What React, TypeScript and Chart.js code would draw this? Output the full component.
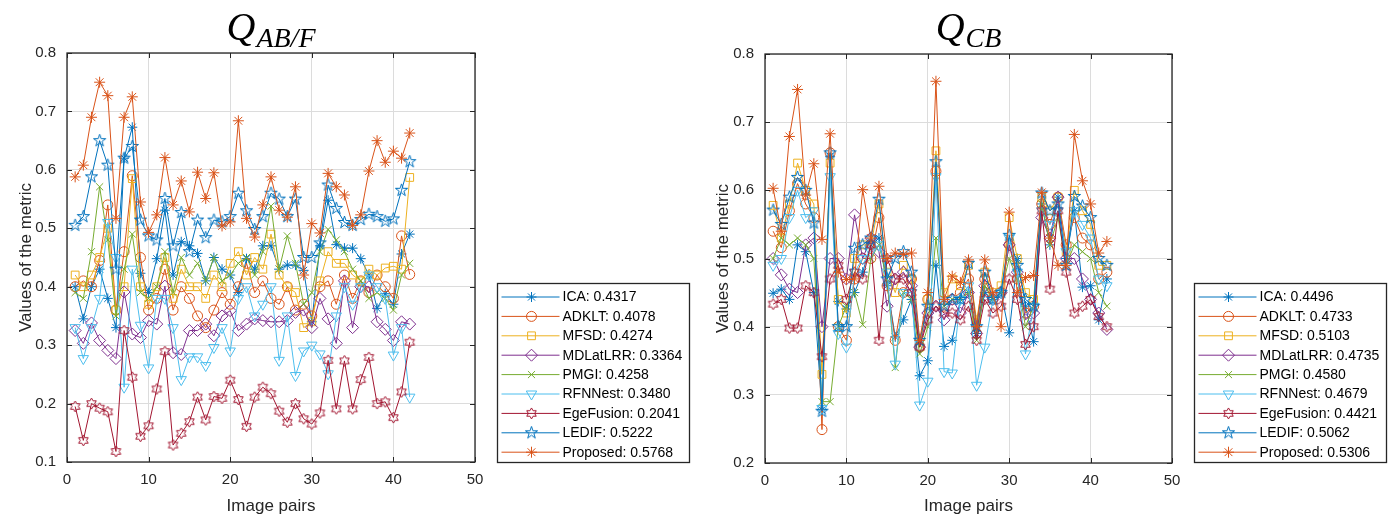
import React, { useEffect, useRef } from 'react';
import { Chart, registerables } from 'chart.js';
import { drawPoint } from 'chart.js/helpers';

Chart.register(...registerables);

// ---------- data ----------
const imagePairs = [1,2,3,4,5,6,7,8,9,10,11,12,13,14,15,16,17,18,19,20,21,22,23,24,25,26,27,28,29,30,31,32,33,34,35,36,37,38,39,40,41,42];

const methodNames = ['ICA', 'ADKLT', 'MFSD', 'MDLatLRR', 'PMGI', 'RFNNest', 'EgeFusion', 'LEDIF', 'Proposed'];
const meansABF = ['0.4317', '0.4078', '0.4274', '0.3364', '0.4258', '0.3480', '0.2041', '0.5222', '0.5768'];
const meansCB = ['0.4496', '0.4733', '0.5103', '0.4735', '0.4580', '0.4679', '0.4421', '0.5062', '0.5306'];

// Q_AB/F values
const icaABF = [0.40,0.345,0.40,0.43,0.38,0.33,0.62,0.673,0.423,0.39,0.448,0.531,0.42,0.477,0.47,0.457,0.41,0.45,0.43,0.42,0.39,0.448,0.43,0.47,0.47,0.43,0.437,0.437,0.428,0.34,0.47,0.548,0.472,0.466,0.466,0.448,0.42,0.363,0.388,0.37,0.456,0.49];
const adkltABF = [0.40,0.41,0.40,0.445,0.54,0.36,0.46,0.59,0.45,0.36,0.38,0.43,0.36,0.40,0.38,0.35,0.33,0.36,0.39,0.37,0.40,0.44,0.39,0.41,0.38,0.37,0.40,0.36,0.37,0.35,0.40,0.41,0.37,0.42,0.38,0.41,0.39,0.42,0.40,0.38,0.487,0.421];
const mfsdABF = [0.42,0.40,0.42,0.45,0.50,0.36,0.40,0.585,0.40,0.37,0.40,0.45,0.38,0.43,0.40,0.40,0.38,0.42,0.40,0.44,0.46,0.42,0.45,0.43,0.49,0.42,0.40,0.39,0.33,0.34,0.41,0.46,0.44,0.44,0.42,0.41,0.43,0.42,0.432,0.435,0.43,0.587];
const mdlatlrrABF = [0.325,0.303,0.338,0.308,0.291,0.277,0.391,0.319,0.313,0.342,0.336,0.401,0.287,0.284,0.325,0.325,0.336,0.316,0.35,0.359,0.325,0.336,0.345,0.342,0.34,0.34,0.342,0.356,0.36,0.33,0.38,0.345,0.303,0.41,0.33,0.40,0.40,0.34,0.327,0.308,0.34,0.336];
const pmgiABF = [0.39,0.38,0.46,0.571,0.48,0.35,0.43,0.49,0.39,0.38,0.40,0.46,0.39,0.45,0.42,0.44,0.41,0.45,0.41,0.42,0.44,0.45,0.42,0.46,0.538,0.43,0.487,0.44,0.37,0.39,0.46,0.498,0.48,0.46,0.43,0.41,0.38,0.39,0.38,0.36,0.42,0.44];
const rfnnestABF = [0.33,0.277,0.33,0.38,0.51,0.45,0.228,0.43,0.334,0.261,0.38,0.38,0.33,0.241,0.28,0.28,0.265,0.296,0.33,0.29,0.38,0.40,0.35,0.37,0.40,0.274,0.35,0.248,0.29,0.30,0.285,0.251,0.35,0.40,0.37,0.40,0.42,0.40,0.38,0.283,0.33,0.211];
const egefusionABF = [0.195,0.137,0.2,0.192,0.186,0.118,0.325,0.245,0.144,0.162,0.225,0.289,0.129,0.149,0.169,0.211,0.172,0.212,0.209,0.24,0.207,0.161,0.211,0.228,0.217,0.187,0.168,0.2,0.174,0.165,0.184,0.274,0.191,0.273,0.191,0.241,0.279,0.2,0.203,0.176,0.22,0.305];
const ledifABF = [0.505,0.52,0.588,0.65,0.608,0.43,0.62,0.64,0.514,0.487,0.48,0.551,0.47,0.527,0.46,0.514,0.484,0.514,0.511,0.52,0.56,0.53,0.498,0.52,0.56,0.55,0.52,0.55,0.45,0.45,0.475,0.574,0.534,0.51,0.505,0.515,0.524,0.52,0.512,0.516,0.565,0.614];
const proposedABF = [0.588,0.608,0.69,0.75,0.727,0.517,0.69,0.725,0.545,0.493,0.523,0.621,0.54,0.581,0.528,0.596,0.551,0.595,0.504,0.511,0.684,0.517,0.485,0.54,0.588,0.531,0.519,0.571,0.42,0.508,0.492,0.594,0.571,0.557,0.505,0.523,0.598,0.65,0.613,0.632,0.62,0.663];

// Q_CB values
const icaCB = [0.449,0.455,0.44,0.52,0.51,0.45,0.278,0.65,0.437,0.426,0.45,0.48,0.52,0.53,0.46,0.385,0.41,0.44,0.328,0.35,0.49,0.371,0.38,0.44,0.45,0.39,0.45,0.44,0.45,0.391,0.50,0.43,0.378,0.58,0.52,0.59,0.50,0.57,0.458,0.46,0.41,0.47];
const adkltCB = [0.54,0.516,0.57,0.61,0.58,0.56,0.249,0.655,0.40,0.38,0.47,0.50,0.50,0.56,0.46,0.38,0.45,0.47,0.37,0.44,0.628,0.43,0.44,0.45,0.47,0.39,0.47,0.44,0.45,0.52,0.47,0.42,0.43,0.58,0.55,0.59,0.52,0.56,0.53,0.52,0.47,0.48];
const mfsdCB = [0.578,0.53,0.58,0.64,0.60,0.58,0.33,0.64,0.44,0.42,0.50,0.52,0.52,0.58,0.48,0.45,0.49,0.47,0.37,0.44,0.658,0.45,0.47,0.46,0.49,0.41,0.48,0.45,0.46,0.56,0.50,0.45,0.44,0.59,0.57,0.59,0.51,0.60,0.57,0.55,0.49,0.49];
const mdlatlrrCB = [0.50,0.476,0.455,0.45,0.52,0.53,0.40,0.50,0.50,0.47,0.564,0.50,0.53,0.51,0.43,0.47,0.48,0.46,0.37,0.42,0.43,0.41,0.44,0.42,0.45,0.39,0.46,0.44,0.45,0.52,0.48,0.41,0.42,0.56,0.53,0.59,0.50,0.50,0.47,0.44,0.42,0.396];
const pmgiCB = [0.50,0.53,0.52,0.53,0.52,0.50,0.29,0.29,0.40,0.43,0.45,0.403,0.50,0.52,0.47,0.34,0.45,0.44,0.36,0.40,0.53,0.43,0.44,0.44,0.45,0.38,0.46,0.44,0.45,0.50,0.47,0.40,0.43,0.58,0.52,0.56,0.49,0.52,0.51,0.50,0.45,0.43];
const rfnnestCB = [0.49,0.50,0.56,0.60,0.56,0.57,0.28,0.62,0.39,0.37,0.48,0.50,0.51,0.52,0.48,0.345,0.45,0.45,0.285,0.32,0.62,0.334,0.332,0.44,0.46,0.314,0.37,0.44,0.45,0.53,0.48,0.36,0.43,0.57,0.55,0.57,0.51,0.57,0.55,0.53,0.47,0.46];
const egefusionCB = [0.433,0.44,0.398,0.398,0.46,0.45,0.356,0.47,0.49,0.44,0.48,0.47,0.52,0.38,0.50,0.47,0.47,0.45,0.37,0.41,0.43,0.42,0.42,0.41,0.43,0.38,0.44,0.42,0.43,0.47,0.44,0.374,0.40,0.57,0.455,0.57,0.48,0.42,0.43,0.44,0.415,0.40];
const ledifCB = [0.571,0.55,0.59,0.619,0.60,0.552,0.276,0.655,0.40,0.40,0.515,0.52,0.53,0.587,0.47,0.50,0.51,0.48,0.38,0.43,0.642,0.43,0.44,0.44,0.493,0.40,0.48,0.44,0.45,0.534,0.49,0.44,0.43,0.596,0.57,0.58,0.49,0.591,0.577,0.56,0.50,0.49];
const proposedCB = [0.603,0.54,0.679,0.748,0.593,0.639,0.528,0.683,0.48,0.469,0.47,0.601,0.53,0.606,0.50,0.508,0.506,0.508,0.38,0.45,0.76,0.44,0.474,0.465,0.498,0.40,0.498,0.45,0.40,0.568,0.45,0.472,0.475,0.597,0.53,0.49,0.49,0.682,0.614,0.58,0.508,0.525];

const seriesABF = [icaABF, adkltABF, mfsdABF, mdlatlrrABF, pmgiABF, rfnnestABF, egefusionABF, ledifABF, proposedABF];
const seriesCB = [icaCB, adkltCB, mfsdCB, mdlatlrrCB, pmgiCB, rfnnestCB, egefusionCB, ledifCB, proposedCB];

const yTicksABF = [0.1, 0.8];
const yTicksCB = [0.2, 0.8];
const xRange = [0, 50];

// ---------- styles ----------
const COLORS = ['#0072BD', '#D95319', '#EDB120', '#7E2F8E', '#77AC30', '#4DBEEE', '#A2142F', '#0072BD', '#D95319'];
const SANS = "'Liberation Sans', Arial, Helvetica, sans-serif";
const SERIF = "'Liberation Serif', 'DejaVu Serif', 'Times New Roman', serif";
const AXIS = '#262626';

function makeStar(color: string, n: number, outer: number, inner: number): HTMLCanvasElement {
  const size = Math.ceil(outer * 2 + 4);
  const c = document.createElement('canvas');
  c.width = size; c.height = size;
  const g = c.getContext('2d')!;
  g.strokeStyle = color;
  g.lineWidth = 1;
  g.beginPath();
  for (let k = 0; k < 2 * n; k++) {
    const a = -Math.PI / 2 + (k * Math.PI) / n;
    const r = k % 2 === 0 ? outer : inner;
    const px = size / 2 + r * Math.cos(a);
    const py = size / 2 + r * Math.sin(a);
    if (k === 0) g.moveTo(px, py); else g.lineTo(px, py);
  }
  g.closePath();
  g.stroke();
  return c;
}

function markerStyles() {
  return [
    { pointStyle: 'star', radius: 5, rotation: 0 },
    { pointStyle: 'circle', radius: 5, rotation: 0 },
    { pointStyle: 'rect', radius: 5.5, rotation: 0 },
    { pointStyle: 'rectRot', radius: 6, rotation: 0 },
    { pointStyle: 'crossRot', radius: 5, rotation: 0 },
    { pointStyle: 'triangle', radius: 6, rotation: 180 },
    { pointStyle: makeStar(COLORS[6], 6, 5.5, 5.5 / Math.sqrt(3)), radius: 6, rotation: 0 },
    { pointStyle: makeStar(COLORS[7], 5, 6.5, 6.5 * 0.382), radius: 6, rotation: 0 },
    { pointStyle: 'star', radius: 5.5, rotation: 0 },
  ];
}

interface PanelCfg {
  series: number[][];
  means: string[];
  yRange: number[];
  titleSub: string;
  top: number;
  bottom: number;
  left: number;
  right: number;
}

function makeChart(canvas: HTMLCanvasElement, cfg: PanelCfg) {
  const W = canvas.width, H = canvas.height;
  const markers = markerStyles();
  const datasets = cfg.series.map((vals, i) => ({
    label: methodNames[i],
    data: vals.map((v, k) => ({ x: imagePairs[k], y: v })),
    borderColor: COLORS[i],
    borderWidth: 1,
    pointStyle: markers[i].pointStyle as any,
    pointRadius: markers[i].radius,
    pointRotation: markers[i].rotation,
    pointBorderColor: COLORS[i],
    pointBackgroundColor: 'rgba(0,0,0,0)',
    pointBorderWidth: 1,
    tension: 0,
    order: 9 - i,
  }));

  const framePlugin = {
    id: 'frameAndDecor',
    afterDraw(chart: any) {
      const ctx = chart.ctx as CanvasRenderingContext2D;
      const ca = chart.chartArea;
      const xs = chart.scales.x, ys = chart.scales.y;
      ctx.save();
      // box
      ctx.strokeStyle = AXIS;
      ctx.lineWidth = 1.3;
      ctx.strokeRect(ca.left, ca.top, ca.right - ca.left, ca.bottom - ca.top);
      // inward ticks
      ctx.lineWidth = 1;
      ctx.beginPath();
      xs.ticks.forEach((t: any) => {
        const px = Math.round(xs.getPixelForValue(t.value)) + 0.5;
        ctx.moveTo(px, ca.bottom); ctx.lineTo(px, ca.bottom - 5);
        ctx.moveTo(px, ca.top); ctx.lineTo(px, ca.top + 5);
      });
      ys.ticks.forEach((t: any) => {
        const py = Math.round(ys.getPixelForValue(t.value)) + 0.5;
        ctx.moveTo(ca.left, py); ctx.lineTo(ca.left + 5, py);
        ctx.moveTo(ca.right, py); ctx.lineTo(ca.right - 5, py);
      });
      ctx.stroke();

      // axis titles
      ctx.fillStyle = AXIS;
      ctx.font = `17px ${SANS}`;
      ctx.textAlign = 'center';
      ctx.textBaseline = 'middle';
      ctx.fillText('Image pairs', (ca.left + ca.right) / 2, 506);
      ctx.save();
      ctx.translate(26, (ca.top + ca.bottom) / 2);
      ctx.rotate(-Math.PI / 2);
      ctx.fillText('Values of the metric', 0, 0);
      ctx.restore();

      // title Q_sub
      ctx.fillStyle = '#000';
      ctx.textBaseline = 'alphabetic';
      ctx.textAlign = 'left';
      const qFont = `italic 40px ${SERIF}`;
      const sFont = `italic 28px ${SERIF}`;
      ctx.font = qFont;
      const qW = ctx.measureText('Q').width;
      ctx.font = sFont;
      const sW = ctx.measureText(cfg.titleSub).width;
      const total = qW + 1 + sW;
      const x0 = (ca.left + ca.right) / 2 - total / 2;
      ctx.font = qFont;
      ctx.fillText('Q', x0, 40);
      ctx.font = sFont;
      ctx.fillText(cfg.titleSub, x0 + qW + 1, 47);

      // legend
      const lx = 497.5, ly = 283.5, lw = 192, lh = 179;
      ctx.fillStyle = '#ffffff';
      ctx.fillRect(lx, ly, lw, lh);
      ctx.strokeStyle = AXIS;
      ctx.lineWidth = 1.3;
      ctx.strokeRect(lx, ly, lw, lh);
      const row0 = 297, dy = 19.4;
      ctx.font = `14px ${SANS}`;
      ctx.textBaseline = 'middle';
      ctx.textAlign = 'left';
      methodNames.forEach((name, i) => {
        const yy = row0 + i * dy;
        ctx.strokeStyle = COLORS[i];
        ctx.lineWidth = 1;
        ctx.beginPath();
        ctx.moveTo(lx + 4, yy); ctx.lineTo(lx + 62, yy);
        ctx.stroke();
        ctx.fillStyle = 'rgba(0,0,0,0)';
        ctx.strokeStyle = COLORS[i];
        drawPoint(ctx, { pointStyle: markers[i].pointStyle as any, radius: markers[i].radius, rotation: markers[i].rotation, borderWidth: 1 } as any, lx + 34, yy);
        ctx.fillStyle = '#000';
        ctx.fillText(`${name}: ${cfg.means[i]}`, lx + 65, yy + 0.5);
      });
      ctx.restore();
    },
  };

  return new Chart(canvas, {
    type: 'line',
    data: { datasets: datasets as any },
    options: {
      animation: false,
      responsive: false,
      events: [],
      layout: { padding: { left: 0, top: cfg.top, right: W - cfg.right, bottom: 0 } },
      plugins: { legend: { display: false }, tooltip: { enabled: false }, title: { display: false } },
      scales: {
        x: {
          type: 'linear',
          min: xRange[0],
          max: xRange[1],
          ticks: { stepSize: 10, padding: 9, color: AXIS, font: { family: SANS, size: 15 }, maxRotation: 0 },
          grid: { color: '#dcdcdc', lineWidth: 1, drawTicks: false },
          border: { display: false },
          afterFit: (s: any) => { s.height = H - cfg.bottom; },
        },
        y: {
          type: 'linear',
          min: cfg.yRange[0],
          max: cfg.yRange[1],
          ticks: {
            stepSize: 0.1,
            padding: 11,
            color: AXIS,
            font: { family: SANS, size: 15 },
            callback: (v: any) => Number(v).toFixed(1),
          },
          grid: { color: '#dcdcdc', lineWidth: 1, drawTicks: false },
          border: { display: false },
          afterFit: (s: any) => { s.width = cfg.left; },
        },
      },
    },
    plugins: [framePlugin],
  });
}

function Panel({ cfg, offset }: { cfg: PanelCfg; offset: number }) {
  const ref = useRef<HTMLCanvasElement | null>(null);
  useEffect(() => {
    if (!ref.current) return;
    const chart = makeChart(ref.current, cfg);
    return () => chart.destroy();
  }, []);
  return (
    <canvas
      ref={ref}
      width={697}
      height={519}
      style={{ position: 'absolute', left: offset, top: 0, width: 697, height: 519 }}
    />
  );
}

const leftCfg: PanelCfg = {
  series: seriesABF, means: meansABF, yRange: yTicksABF, titleSub: 'AB/F',
  top: 53, bottom: 462, left: 67, right: 475,
};
const rightCfg: PanelCfg = {
  series: seriesCB, means: meansCB, yRange: yTicksCB, titleSub: 'CB',
  top: 54, bottom: 463, left: 68, right: 475,
};

export default function App() {
  return (
    <div style={{ position: 'absolute', left: 0, top: 0, width: 1394, height: 519, background: '#fff', overflow: 'hidden' }}>
      <Panel cfg={leftCfg} offset={0} />
      <Panel cfg={rightCfg} offset={697} />
    </div>
  );
}
